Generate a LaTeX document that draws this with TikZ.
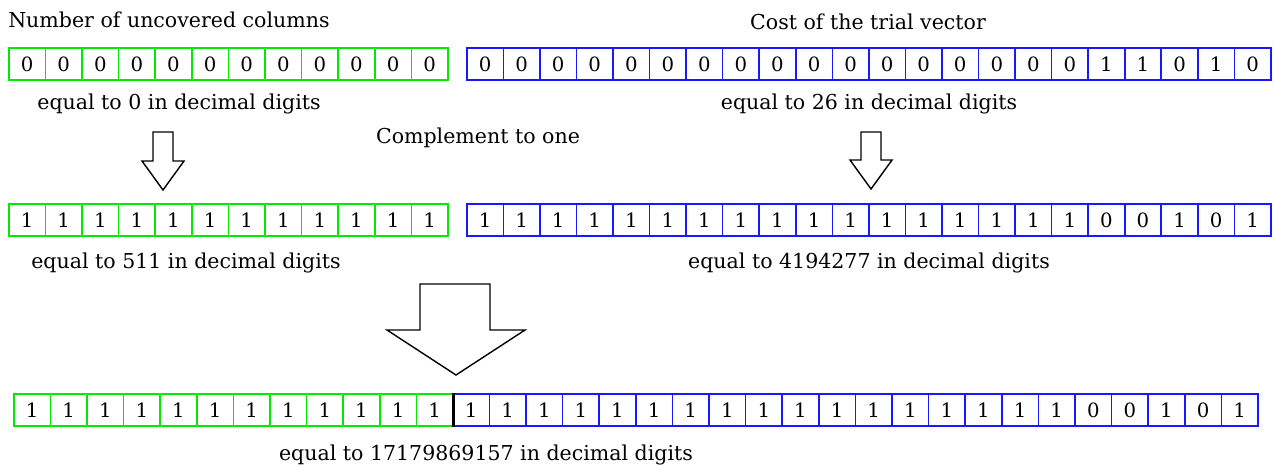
\documentclass[tikz,border=0pt]{standalone}
\usepackage{fontspec}
\setmainfont{DejaVu Serif}
\usetikzlibrary{positioning}
\definecolor{bitgreen}{RGB}{0,235,0}
\definecolor{bitblue}{RGB}{25,25,255}
\tikzset{
  gcell/.style      = {rectangle, draw=bitgreen, line width=1.1pt, inner sep=0pt,
                       minimum width=0.915cm, minimum height=0.81cm, anchor=north west,
                       font=\fontsize{14}{14}\selectfont},
  bcell/.style      = {gcell, draw=bitblue},
  caption/.style    = {inner sep=0pt, font=\fontsize{14.6}{18}\selectfont},
  blockarrow/.style = {draw=black, line width=1pt, fill=white, line join=miter},
}

\begin{document}
\begin{tikzpicture}[x=0.025cm, y=-0.025cm]
      \useasboundingbox (0,0) rectangle (1274,470);

      % top row: number of uncovered columns and cost
      \node[caption, anchor=west] (ncols) at (8, 20) {Number of uncovered columns};
      \node[caption] (cost) at (868, 22) {Cost of the trial vector};
      \foreach \b [count=\i] in {0,0,0,0,0,0,0,0,0,0,0,0}
        \node[gcell] (ga\i) at ({8+(\i-1)*36.6}, 47) {\b};
      \foreach \b [count=\i] in {0,0,0,0,0,0,0,0,0,0,0,0,0,0,0,0,0,1,1,0,1,0}
        \node[bcell] (ba\i) at ({466+(\i-1)*36.55}, 47) {\b};
      \node[caption] (dec0) at (179, 104) {equal to 0 in decimal digits};
      \node[caption] (dec26) at (869, 104) {equal to 26 in decimal digits};

      % complement
      \node[caption] (compl) at (478, 138) {Complement to one};
      \draw[blockarrow] (153,132) -- (173,132) -- (173,161) -- (184,161) -- (163,190)
        -- (142,161) -- (153,161) -- cycle;
      \draw[blockarrow] (861,132) -- (881,132) -- (881,160) -- (892,160) -- (871,189)
        -- (850,160) -- (861,160) -- cycle;

      % second row
      \foreach \b [count=\i] in {1,1,1,1,1,1,1,1,1,1,1,1}
        \node[gcell] (gb\i) at ({8+(\i-1)*36.6}, 203) {\b};
      \foreach \b [count=\i] in {1,1,1,1,1,1,1,1,1,1,1,1,1,1,1,1,1,0,0,1,0,1}
        \node[bcell] (bb\i) at ({466+(\i-1)*36.55}, 203) {\b};
      \node[caption] (dec511) at (186, 263) {equal to 511 in decimal digits};
      \node[caption] (dec419) at (869, 263) {equal to 4194277 in decimal digits};

      % concatenation
      \draw[blockarrow] (420,284) -- (490,284) -- (490,330) -- (525,330) -- (456,375)
        -- (387,330) -- (420,330) -- cycle;
      \foreach \b [count=\i] in {1,1,1,1,1,1,1,1,1,1,1,1}
        \node[gcell] (gc\i) at ({13+(\i-1)*36.6}, 393) {\b};
      \foreach \b [count=\i] in {1,1,1,1,1,1,1,1,1,1,1,1,1,1,1,1,1,0,0,1,0,1}
        \node[bcell] (bc\i) at ({452+(\i-1)*36.6}, 393) {\b};
      \draw[line width=1.8pt] (gc12.north east) -- (gc12.south east);
      \node[caption] (decall) at (486, 455) {equal to 17179869157 in decimal digits};
    \end{tikzpicture}
\end{document}
